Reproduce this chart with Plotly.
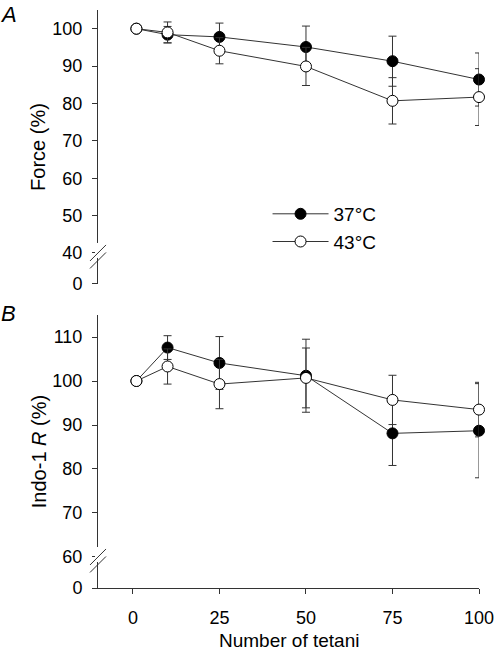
import plotly.graph_objects as go

# ---------------- data ----------------
tetani = [1, 10, 25, 50, 75, 100]
x_tick_vals = [0, 25, 50, 75, 100]
x_tick_text = ["0", "25", "50", "75", "100"]

force_37 = [100, 98.4, 97.8, 95.1, 91.3, 86.4]
force_37_err = [0, 2.2, 3.7, 5.6, 6.7, 7.1]
force_43 = [100, 99.0, 94.1, 89.9, 80.7, 81.7]
force_43_err = [0, 2.8, 3.5, 5.1, 6.2, 7.6]

indo_37 = [100, 107.6, 104.1, 101.2, 88.1, 88.7]
indo_37_err = [0, 2.7, 6.0, 8.3, 7.3, 10.7]
indo_43 = [100, 103.3, 99.3, 100.7, 95.7, 93.5]
indo_43_err = [0, 4.0, 5.6, 6.8, 5.6, 6.2]

force_ticks = [40, 50, 60, 70, 80, 90, 100]
indo_ticks = [60, 70, 80, 90, 100, 110]

# broken-axis: the "0" tick sits a fixed distance below the lowest tick
A_ZERO_POS = 31.7
B_ZERO_POS = 52.95

FONT = "Liberation Sans, Arial, sans-serif"
LINE_C = "#333333"

fig = go.Figure()


def add_series(y, err, name, filled, xa, ya, show):
    fig.add_trace(go.Scatter(
        x=tetani, y=y, name=name, mode="lines+markers",
        xaxis=xa, yaxis=ya, showlegend=show, cliponaxis=False,
        line=dict(color=LINE_C, width=1),
        marker=dict(symbol="circle", size=11,
                    color="black" if filled else "white",
                    line=dict(color="black", width=1)),
        error_y=dict(type="data", array=err, visible=True,
                     color=LINE_C, thickness=1, width=4),
    ))


add_series(force_37, force_37_err, "37°C", True, "x", "y", True)
add_series(force_43, force_43_err, "43°C", False, "x", "y", True)
add_series(indo_37, indo_37_err, "37°C", True, "x2", "y2", False)
add_series(indo_43, indo_43_err, "43°C", False, "x2", "y2", False)

tickfont = dict(family=FONT, size=18, color="black")
yaxis_common = dict(showline=True, linecolor=LINE_C, linewidth=1,
                    ticks="outside", ticklen=5, tickcolor=LINE_C,
                    showgrid=False, zeroline=False, tickfont=tickfont,
                    ticklabelstandoff=6, automargin=False)

shapes = []
for yref, anchor in (("y", 40), ("y2", 60)):
    shapes.append(dict(type="rect", xref="paper", yref=yref,
                       xsizemode="pixel", ysizemode="pixel",
                       xanchor=0, yanchor=anchor,
                       x0=-3, x1=3, y0=-5, y1=10,
                       fillcolor="white", line=dict(width=0), layer="above"))
    for dy in (0, -7.5):
        shapes.append(dict(type="line", xref="paper", yref=yref,
                           xsizemode="pixel", ysizemode="pixel",
                           xanchor=0, yanchor=anchor,
                           x0=-8, x1=8, y0=-8 + dy, y1=8 + dy,
                           line=dict(color=LINE_C, width=1), layer="above"))

fig.update_layout(
    width=495, height=650,
    margin=dict(l=98, r=16, t=10, b=62),
    paper_bgcolor="white", plot_bgcolor="white",
    font=dict(family=FONT, size=18, color="black"),
    showlegend=True,
    legend=dict(x=0.445, y=0.68, xanchor="left", yanchor="top",
                font=dict(family=FONT, size=19, color="black"),
                bgcolor="rgba(0,0,0,0)", itemwidth=56, tracegroupgap=0),
    xaxis=dict(domain=[0, 1], anchor="y", range=[-10.1, 100],
               visible=False, automargin=False),
    yaxis=dict(domain=[0.526, 1.0], anchor="x", range=[A_ZERO_POS, 105],
               tickvals=[A_ZERO_POS] + force_ticks,
               ticktext=["0"] + [str(v) for v in force_ticks],
               title=dict(text="Force (%)", standoff=1,
                          font=dict(family=FONT, size=20)),
               **yaxis_common),
    xaxis2=dict(domain=[0, 1], anchor="y2", range=[-10.1, 100],
                tickvals=x_tick_vals, ticktext=x_tick_text,
                showline=True, linecolor=LINE_C, linewidth=1,
                ticks="outside", ticklen=5, tickcolor=LINE_C,
                showgrid=False, zeroline=False, tickfont=tickfont,
                ticklabelstandoff=8, automargin=False),
    yaxis2=dict(domain=[0, 0.4723], anchor="x2", range=[B_ZERO_POS, 115],
                tickvals=[B_ZERO_POS] + indo_ticks,
                ticktext=["0"] + [str(v) for v in indo_ticks],
                title=dict(text="Indo-1 <i>R</i> (%)", standoff=0,
                           font=dict(family=FONT, size=20)),
                **yaxis_common),
    shapes=shapes,
    annotations=[
        dict(text="<i>A</i>", xref="paper", yref="paper", x=-0.236, y=0.993,
             xanchor="center", yanchor="middle", showarrow=False,
             font=dict(family=FONT, size=22, color="black")),
        dict(text="<i>B</i>", xref="paper", yref="paper", x=-0.236, y=0.4755,
             xanchor="center", yanchor="middle", showarrow=False,
             font=dict(family=FONT, size=22, color="black")),
        dict(text="Number of tetani", xref="paper", yref="paper",
             x=0.5, y=-0.091, xanchor="center", yanchor="middle",
             showarrow=False,
             font=dict(family=FONT, size=19, color="black")),
    ],
)

fig.write_html(
    "out.html",
    config={"displayModeBar": False},
    post_script="document.body.style.margin='0';document.body.style.overflow='hidden';",
)
